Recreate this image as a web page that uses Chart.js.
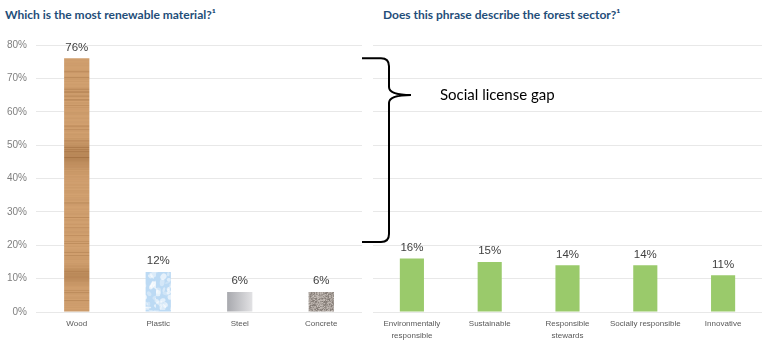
<!DOCTYPE html>
<html>
<head>
<meta charset="utf-8">
<script src="https://cdn.jsdelivr.net/npm/chart.js@4.4.1/dist/chart.umd.min.js"></script>
<style>
  html, body { margin: 0; padding: 0; background: #fff; }
  body { width: 762px; height: 340px; position: relative; overflow: hidden; }
  .title { position: absolute; top: 7px; font: bold 12px Lato, sans-serif; color: #1f4e79; white-space: nowrap; }
  #leftWrap  { position: absolute; left: 0;     top: 30px; width: 370px; height: 310px; z-index: 2; }
  #rightWrap { position: absolute; left: 355px; top: 30px; width: 407px; height: 310px; z-index: 1; }
</style>
</head>
<body>
<div class="title" style="left:5px">Which is the most renewable material?¹</div>
<div class="title" style="left:383px">Does this phrase describe the forest sector?¹</div>
<div id="leftWrap"><canvas id="materialChart"></canvas></div>
<div id="rightWrap"><canvas id="phraseChart"></canvas></div>
<script>
// data
const materials      = ['Wood', 'Plastic', 'Steel', 'Concrete'];
const materialValues = [76, 12, 6, 6];
const phrases        = [['Environmentally', 'responsible'], 'Sustainable', ['Responsible', 'stewards'], 'Socially responsible', 'Innovative'];
const phraseValues   = [16, 15, 14, 14, 11];
const yMax  = 80;
const yStep = 10;
// brace: from wood value down to ~21%, tip at ~65%
const gapBottom = 21;
const gapTip    = 65;
const gapText   = 'Social license gap';

const gridColor  = '#e8e8e8';
const tickColor  = '#7f7f7f';
const labelColor = '#595959';
const greenColor = '#9aca6b';

// seeded random, only for textures
function seeded(seed) {
    return () => {
        seed = (seed * 16807) % 2147483647;
        return (seed - 1) / 2147483646;
    };
}

function makeCanvas(w, h) {
    const c = document.createElement('canvas');
    c.width = w; c.height = h;
    return c;
}

function woodTexture() {
    const c = makeCanvas(8, 270);
    const g = c.getContext('2d');
    const rnd = seeded(7);
    g.fillStyle = '#d2a170';
    g.fillRect(0, 0, 8, 270);
    for (let y = 0; y < 270; y++) {
        const band = Math.exp(-Math.pow((y - 125) / 12, 2)) * 0.3 + Math.exp(-Math.pow((y - 245) / 8, 2)) * 0.25;
        const a = (rnd() < 0.3 ? rnd() * 0.28 : rnd() * 0.08) + band;
        g.fillStyle = `rgba(130, 80, 35, ${a})`;
        g.fillRect(0, y, 8, 1);
    }
    return c;
}

function plasticTexture() {
    const c = makeCanvas(26, 40);
    const g = c.getContext('2d');
    const rnd = seeded(11);
    g.fillStyle = '#bcdaf4';
    g.fillRect(0, 0, 26, 40);
    for (let i = 0; i < 45; i++) {
        g.fillStyle = `rgba(255,255,255,${0.25 + rnd() * 0.4})`;
        g.beginPath();
        g.ellipse(rnd() * 26, rnd() * 40, 1 + rnd() * 3, 1 + rnd() * 2, rnd() * 3, 0, Math.PI * 2);
        g.fill();
    }
    return c;
}

function concreteTexture() {
    const c = makeCanvas(26, 26);
    const g = c.getContext('2d');
    const rnd = seeded(23);
    for (let y = 0; y < 26; y++) {
        for (let x = 0; x < 26; x++) {
            const v = 120 + rnd() * 70;
            g.fillStyle = `rgb(${v + 8}, ${v}, ${v - 6})`;
            g.fillRect(x, y, 1, 1);
        }
    }
    return c;
}

const barPct = 0.31;
let woodFill, plasticFill, concreteFill;

function materialFill(c) {
    const chart = c.chart;
    if (!chart.chartArea) return '#ccc';
    const ctx = chart.ctx;
    if (!woodFill) {
        woodFill     = ctx.createPattern(woodTexture(), 'repeat');
        plasticFill  = ctx.createPattern(plasticTexture(), 'repeat');
        concreteFill = ctx.createPattern(concreteTexture(), 'repeat');
    }
    if (c.dataIndex === 0) return woodFill;
    if (c.dataIndex === 1) return plasticFill;
    if (c.dataIndex === 3) return concreteFill;
    // steel: grey gradient across the bar
    const xs = chart.scales.x;
    const cx = xs.getPixelForValue(c.dataIndex);
    const half = xs.width / materials.length * barPct / 2;
    const grad = ctx.createLinearGradient(cx - half, 0, cx + half, 0);
    grad.addColorStop(0, '#a8a9ae');
    grad.addColorStop(1, '#e2e2e4');
    return grad;
}

// percent labels above the bars
const valueLabels = {
    id: 'valueLabels',
    afterDatasetsDraw(chart) {
        const ctx = chart.ctx;
        const values = chart.data.datasets[0].data;
        ctx.save();
        ctx.font = '11.5px "Liberation Sans", Arial, sans-serif';
        ctx.fillStyle = '#404040';
        ctx.textAlign = 'center';
        ctx.textBaseline = 'bottom';
        chart.getDatasetMeta(0).data.forEach((bar, i) => {
            ctx.fillText(values[i] + '%', bar.x, bar.y - 5);
        });
        ctx.restore();
    }
};

// the curly brace and its label
const gapBrace = {
    id: 'gapBrace',
    afterDraw(chart) {
        const ctx = chart.ctx;
        const y = chart.scales.y;
        const left = chart.chartArea.left;
        const yTop = y.getPixelForValue(materialValues[0]);
        const yBot = y.getPixelForValue(gapBottom);
        const yTip = y.getPixelForValue(gapTip);
        const xArm = left - 11, xV = left + 16, xTip = left + 38, r = 8;
        ctx.save();
        ctx.strokeStyle = '#000';
        ctx.lineWidth = 2;
        ctx.beginPath();
        ctx.moveTo(xArm, yTop);
        ctx.lineTo(xV - r, yTop);
        ctx.quadraticCurveTo(xV, yTop, xV, yTop + r);
        ctx.lineTo(xV, yTip - r);
        ctx.quadraticCurveTo(xV, yTip, xTip, yTip);
        ctx.moveTo(xTip, yTip);
        ctx.quadraticCurveTo(xV, yTip, xV, yTip + r);
        ctx.lineTo(xV, yBot - r);
        ctx.quadraticCurveTo(xV, yBot, xV - r, yBot);
        ctx.lineTo(xArm, yBot);
        ctx.stroke();
        ctx.font = '15px Lato, sans-serif';
        ctx.fillStyle = '#000';
        ctx.textBaseline = 'middle';
        ctx.fillText(gapText, left + 67, yTip);
        ctx.restore();
    }
};

function yScale(showTicks) {
    return {
        min: 0,
        max: yMax,
        border: { display: false },
        grid: { color: gridColor, drawTicks: false },
        ticks: {
            display: showTicks,
            stepSize: yStep,
            padding: 9,
            color: tickColor,
            font: { family: '"Liberation Sans", Arial', size: 10 },
            callback: v => v + '%'
        },
        afterFit: s => { s.width = showTicks ? 36 : 0; }
    };
}

function xScale() {
    return {
        border: { display: false },
        grid: { display: false, drawTicks: false },
        ticks: {
            padding: 6,
            color: labelColor,
            maxRotation: 0,
            autoSkip: false,
            font: { family: '"Liberation Sans", Arial', size: 8, lineHeight: 1.5 }
        },
        afterFit: s => { s.height = 28; }
    };
}

const baseOptions = {
    responsive: true,
    maintainAspectRatio: false,
    animation: false,
    plugins: { legend: { display: false }, tooltip: { enabled: false } }
};

new Chart(document.getElementById('materialChart'), {
    type: 'bar',
    data: {
        labels: materials,
        datasets: [{
            data: materialValues,
            backgroundColor: materialFill,
            barPercentage: barPct,
            categoryPercentage: 1
        }]
    },
    options: {
        ...baseOptions,
        layout: { padding: { top: 15, right: 8, left: 0, bottom: 0 } },
        scales: { x: xScale(), y: yScale(true) }
    },
    plugins: [valueLabels]
});

new Chart(document.getElementById('phraseChart'), {
    type: 'bar',
    data: {
        labels: phrases,
        datasets: [{
            data: phraseValues,
            backgroundColor: greenColor,
            barPercentage: barPct,
            categoryPercentage: 1
        }]
    },
    options: {
        ...baseOptions,
        layout: { padding: { top: 15, right: 0, left: 18, bottom: 0 } },
        scales: { x: xScale(), y: yScale(false) }
    },
    plugins: [valueLabels, gapBrace]
});
</script>
</body>
</html>
